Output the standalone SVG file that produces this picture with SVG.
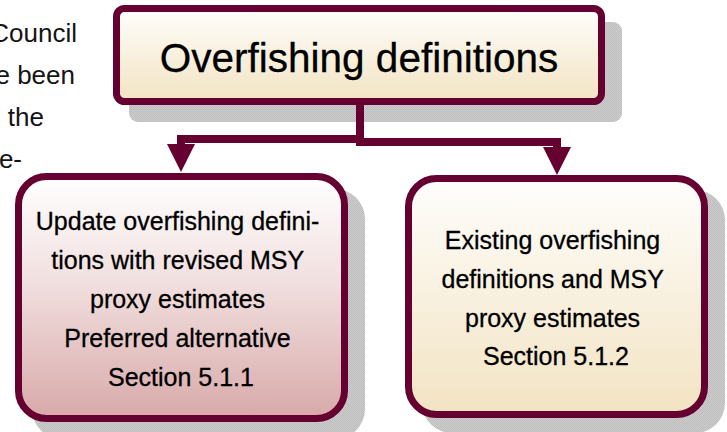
<svg xmlns="http://www.w3.org/2000/svg" width="727" height="432" viewBox="0 0 727 432">
  <defs>
    <pattern id="shadowDither" width="2" height="2" patternUnits="userSpaceOnUse">
      <rect width="2" height="2" fill="#cdcdcd"/>
      <rect width="1" height="1" fill="#bdbdbd"/>
      <rect x="1" y="1" width="1" height="1" fill="#bdbdbd"/>
    </pattern>
    <linearGradient id="creamFill" x1="0" y1="0" x2="0" y2="1">
      <stop offset="0" stop-color="#fffefc"/>
      <stop offset="1" stop-color="#f2e3c2"/>
    </linearGradient>
    <linearGradient id="roseFill" x1="0" y1="0" x2="0" y2="1">
      <stop offset="0" stop-color="#ffffff"/>
      <stop offset="0.45" stop-color="#f1dede"/>
      <stop offset="1" stop-color="#d8a9a9"/>
    </linearGradient>
  </defs>
  <style>
    .shadow { fill: url(#shadowDither); }
    .box { stroke: #650031; stroke-width: 7; }
    .label { font-family: "Liberation Sans", Arial, sans-serif; fill: #000000; stroke: #000000; stroke-width: 0.3; text-anchor: middle; }
    .body { font-family: "Liberation Sans", Arial, sans-serif; fill: #141414; font-size: 26px; text-anchor: end; }
    .wire { fill: none; stroke: #650031; stroke-width: 8; }
    .head { fill: #650031; }
  </style>

  <rect width="727" height="432" fill="#ffffff"/>

  <!-- surrounding page text, partly hidden at the left edge -->
  <g id="page-text">
    <text class="body" x="77" y="42">Council</text>
    <text class="body" x="75" y="84">e been</text>
    <text class="body" x="44" y="126">the</text>
    <text class="body" x="22" y="168">e-</text>
  </g>

  <!-- drop shadows -->
  <g id="shadows">
    <rect class="shadow" x="129" y="22" width="493" height="100" rx="9"/>
    <rect class="shadow" x="32" y="189" width="333" height="250" rx="30"/>
    <rect class="shadow" x="422" y="190" width="303" height="243" rx="30"/>
  </g>

  <!-- connectors -->
  <g id="connectors">
    <path class="wire" d="M360,104 V139 H181 V146"/>
    <polygon class="head" points="167,144 195,144 181,172"/>
    <path class="wire" d="M360,104 V142 H557 V149"/>
    <polygon class="head" points="543,147 571,147 557,175"/>
  </g>

  <g id="node-overfishing-definitions">
    <rect class="box" x="116.5" y="8.5" width="485" height="93" rx="8" fill="url(#creamFill)"/>
    <text class="label" x="359" y="72" font-size="40.5">Overfishing definitions</text>
  </g>

  <g id="node-update-definitions">
    <rect class="box" x="18.5" y="176.5" width="326" height="242" rx="28" fill="url(#roseFill)"/>
    <text class="label" font-size="25">
      <tspan x="181" y="230">Update overfishing defini-</tspan>
      <tspan x="181" y="269">tions with revised MSY</tspan>
      <tspan x="181" y="308">proxy estimates</tspan>
      <tspan x="181" y="347">Preferred alternative</tspan>
      <tspan x="181" y="386">Section 5.1.1</tspan>
    </text>
  </g>

  <g id="node-existing-definitions">
    <rect class="box" x="408.5" y="178.5" width="296" height="236" rx="28" fill="url(#creamFill)"/>
    <text class="label" font-size="25">
      <tspan x="556" y="249">Existing overfishing</tspan>
      <tspan x="556" y="288">definitions and MSY</tspan>
      <tspan x="556" y="327">proxy estimates</tspan>
      <tspan x="556" y="365">Section 5.1.2</tspan>
    </text>
  </g>
</svg>
